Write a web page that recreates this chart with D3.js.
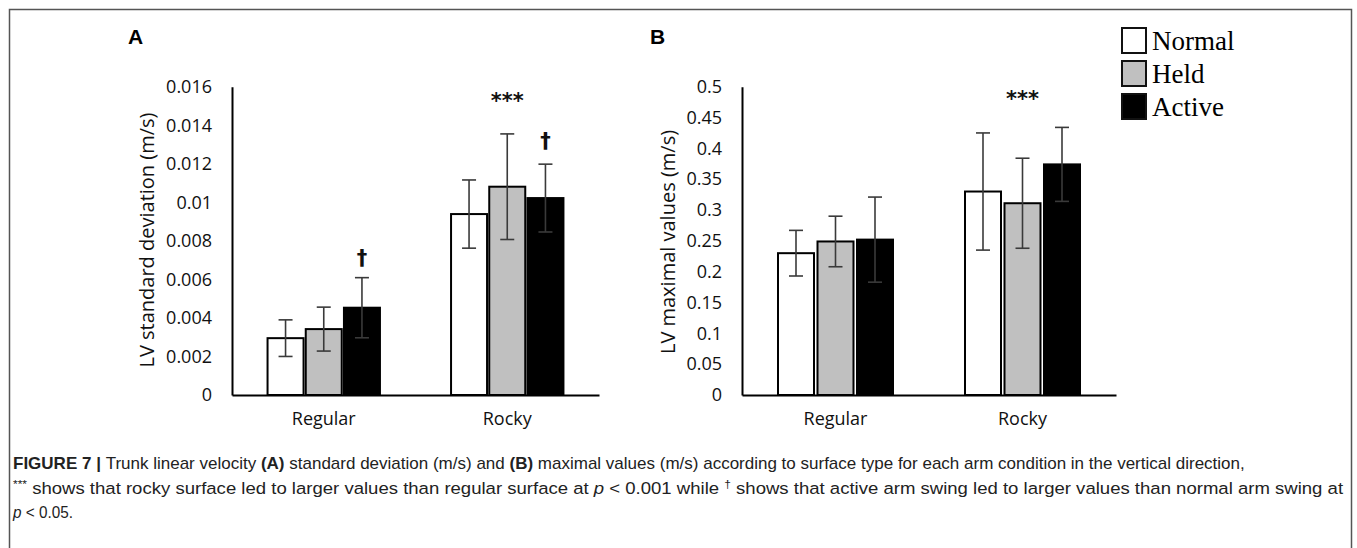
<!DOCTYPE html>
<html>
<head>
<meta charset="utf-8">
<script src="https://cdn.jsdelivr.net/npm/d3@7"></script>
<style>
  html, body { margin: 0; padding: 0; background: #fff; }
  svg { display: block; }
</style>
</head>
<body>
<svg id="chart" width="1357" height="548"></svg>
<script>
// ---- Data ----
const categories = ["Regular", "Rocky"];
const conditions = ["Normal", "Held", "Active"];
const conditionFills = ["#ffffff", "#c0c0c0", "#000000"];

// Panel A: LV standard deviation (m/s)
const sdNormal = [0.00295, 0.00939];
const sdHeld   = [0.00342, 0.01081];
const sdActive = [0.00453, 0.01022];
const sdNormalErr = [0.00095, 0.00177];
const sdHeldErr   = [0.00114, 0.00274];
const sdActiveErr = [0.00156, 0.00176];
const sdTicks = [0, 0.002, 0.004, 0.006, 0.008, 0.01, 0.012, 0.014, 0.016];
const sdTickLabels = ["0", "0.002", "0.004", "0.006", "0.008", "0.01", "0.012", "0.014", "0.016"];

// Panel B: LV maximal values (m/s)
const maxNormal = [0.230, 0.330];
const maxHeld   = [0.249, 0.311];
const maxActive = [0.252, 0.374];
const maxNormalErr = [0.037, 0.095];
const maxHeldErr   = [0.041, 0.073];
const maxActiveErr = [0.069, 0.060];
const maxTicks = [0, 0.05, 0.1, 0.15, 0.2, 0.25, 0.3, 0.35, 0.4, 0.45, 0.5];
const maxTickLabels = ["0", "0.05", "0.1", "0.15", "0.2", "0.25", "0.3", "0.35", "0.4", "0.45", "0.5"];

// Significance marks: category index, condition index (-1 = whole group), symbol, value height
const annotationsA = [
  { cat: 1, cond: -1, text: "***", y: 0.0149 },
  { cat: 0, cond: 2, text: "†", y: 0.00675 },
  { cat: 1, cond: 2, text: "†", y: 0.0128 }
];
const annotationsB = [
  { cat: 1, cond: -1, text: "***", y: 0.469 }
];

const svg = d3.select("#chart");

// frame
svg.append("path")
  .attr("d", "M9.5,560 L9.5,9.5 L1351.5,9.5 L1351.5,560")
  .attr("fill", "none").attr("stroke", "#555").attr("stroke-width", 1.5);

function drawPanel(opt) {
  const g = svg.append("g");
  const x0 = d3.scaleBand().domain(categories).range([opt.left, opt.right]);
  const x1 = d3.scaleBand().domain(conditions).range([0, 3 * opt.barStep]).paddingInner(0);
  const y = d3.scaleLinear().domain([0, opt.max]).range([395, 86.7]);

  // Y axis
  const yAxis = d3.axisLeft(y).tickValues(opt.ticks).tickSize(0).tickPadding(20)
    .tickFormat((d, i) => opt.tickLabels[i]);
  const ya = g.append("g").attr("transform", `translate(${opt.left},0)`).call(yAxis);
  ya.select(".domain").attr("stroke", "#000").attr("stroke-width", 2);
  ya.selectAll("text").attr("font-family", "'Open Sans', sans-serif").attr("font-size", 18).attr("fill", "#111");

  // X axis
  const xAxis = d3.axisBottom(x0).tickSize(0).tickPadding(17);
  const xa = g.append("g").attr("transform", `translate(0,395)`).call(xAxis);
  xa.select(".domain").attr("stroke", "#000").attr("stroke-width", 2);
  xa.selectAll("text").attr("font-family", "'Open Sans', sans-serif").attr("font-size", 18).attr("fill", "#111");

  const series = [opt.s0, opt.s1, opt.s2];
  const errs = [opt.e0, opt.e1, opt.e2];
  categories.forEach((c, ci) => {
    const gx = x0(c) + x0.bandwidth() / 2 - 1.5 * opt.barStep;
    conditions.forEach((cond, k) => {
      const v = series[k][ci];
      const bx = gx + x1(cond) + (opt.barStep - opt.barW) / 2;
      g.append("rect")
        .attr("x", bx).attr("y", y(v))
        .attr("width", opt.barW).attr("height", y(0) - y(v))
        .attr("fill", conditionFills[k]).attr("stroke", "#000").attr("stroke-width", 2);
      const cx = bx + opt.barW / 2;
      const e = errs[k][ci];
      const eg = g.append("g").attr("stroke", "#3a3a3a").attr("stroke-width", 1.6);
      eg.append("line").attr("x1", cx).attr("x2", cx).attr("y1", y(v + e)).attr("y2", y(v - e));
      eg.append("line").attr("x1", cx - 7).attr("x2", cx + 7).attr("y1", y(v + e)).attr("y2", y(v + e));
      eg.append("line").attr("x1", cx - 7).attr("x2", cx + 7).attr("y1", y(v - e)).attr("y2", y(v - e));
    });
  });

  opt.annotations.forEach(a => {
    let cx = x0(categories[a.cat]) + x0.bandwidth() / 2;
    if (a.cond >= 0) {
      const gx = cx - 1.5 * opt.barStep;
      cx = gx + x1(conditions[a.cond]) + opt.barStep / 2;
    }
    g.append("text").attr("x", cx).attr("y", y(a.y))
      .attr("text-anchor", "middle")
      .attr("font-family", "'DejaVu Sans', sans-serif")
      .attr("font-weight", "bold")
      .attr("font-size", 21)
      .attr("fill", "#111")
      .text(a.text);
  });

  // Y label
  g.append("text")
    .attr("transform", `translate(${opt.labelX},${opt.labelY}) rotate(-90)`)
    .attr("text-anchor", "middle")
    .attr("font-family", "'Open Sans', sans-serif").attr("font-size", 20).attr("fill", "#111")
    .text(opt.label);

  // Panel letter
  g.append("text").attr("x", opt.letterX).attr("y", 44)
    .attr("font-family", "'Liberation Sans', Arial, sans-serif").attr("font-weight", "bold")
    .attr("font-size", 21).attr("fill", "#000").text(opt.letter);
}

drawPanel({
  left: 232, right: 599, barStep: 38.2, barW: 36,
  max: 0.016, ticks: sdTicks, tickLabels: sdTickLabels,
  s0: sdNormal, s1: sdHeld, s2: sdActive, e0: sdNormalErr, e1: sdHeldErr, e2: sdActiveErr,
  annotations: annotationsA, label: "LV standard deviation (m/s)", labelX: 154, labelY: 240,
  letter: "A", letterX: 128
});
drawPanel({
  left: 742, right: 1116, barStep: 39.5, barW: 36,
  max: 0.5, ticks: maxTicks, tickLabels: maxTickLabels,
  s0: maxNormal, s1: maxHeld, s2: maxActive, e0: maxNormalErr, e1: maxHeldErr, e2: maxActiveErr,
  annotations: annotationsB, label: "LV maximal values (m/s)", labelX: 675, labelY: 242,
  letter: "B", letterX: 650
});

// Legend
const leg = svg.append("g");
conditions.forEach((c, i) => {
  const yy = 28 + i * 33;
  leg.append("rect").attr("x", 1122).attr("y", yy).attr("width", 24).attr("height", 25)
    .attr("fill", conditionFills[i]).attr("stroke", "#111").attr("stroke-width", 2);
  leg.append("text").attr("x", 1152).attr("y", yy + 22)
    .attr("font-family", "'Liberation Serif', 'Times New Roman', serif").attr("font-size", 27)
    .attr("fill", "#000").text(c);
});

// Caption
const cap = svg.append("g").attr("font-family", "'Liberation Sans', Arial, sans-serif").attr("font-size", 17).attr("fill", "#222");
function capLine(yPos, parts, targetW) {
  const t = cap.append("text").attr("x", 0).attr("y", 0);
  parts.forEach(p => {
    const ts = t.append("tspan").text(p.t);
    if (p.b) ts.attr("font-weight", "bold");
    if (p.i) ts.attr("font-style", "italic");
    if (p.sup) ts.attr("baseline-shift", "super").attr("font-size", 11);
  });
  const w = t.node().getComputedTextLength();
  t.attr("transform", `translate(13,${yPos}) scale(${targetW / w},1)`);
}
capLine(469, [
  { t: "FIGURE 7", b: true }, { t: " | ", b: true },
  { t: "Trunk linear velocity " }, { t: "(A)", b: true },
  { t: " standard deviation (m/s) and " }, { t: "(B)", b: true },
  { t: " maximal values (m/s) according to surface type for each arm condition in the vertical direction," }
], 1232);
capLine(494, [
  { t: "***", sup: true }, { t: " shows that rocky surface led to larger values than regular surface at " },
  { t: "p", i: true }, { t: " < 0.001 while " }, { t: "†", sup: true },
  { t: " shows that active arm swing led to larger values than normal arm swing at" }
], 1331);
capLine(518, [{ t: "p", i: true }, { t: " < 0.05." }], 60);
</script>
</body>
</html>
